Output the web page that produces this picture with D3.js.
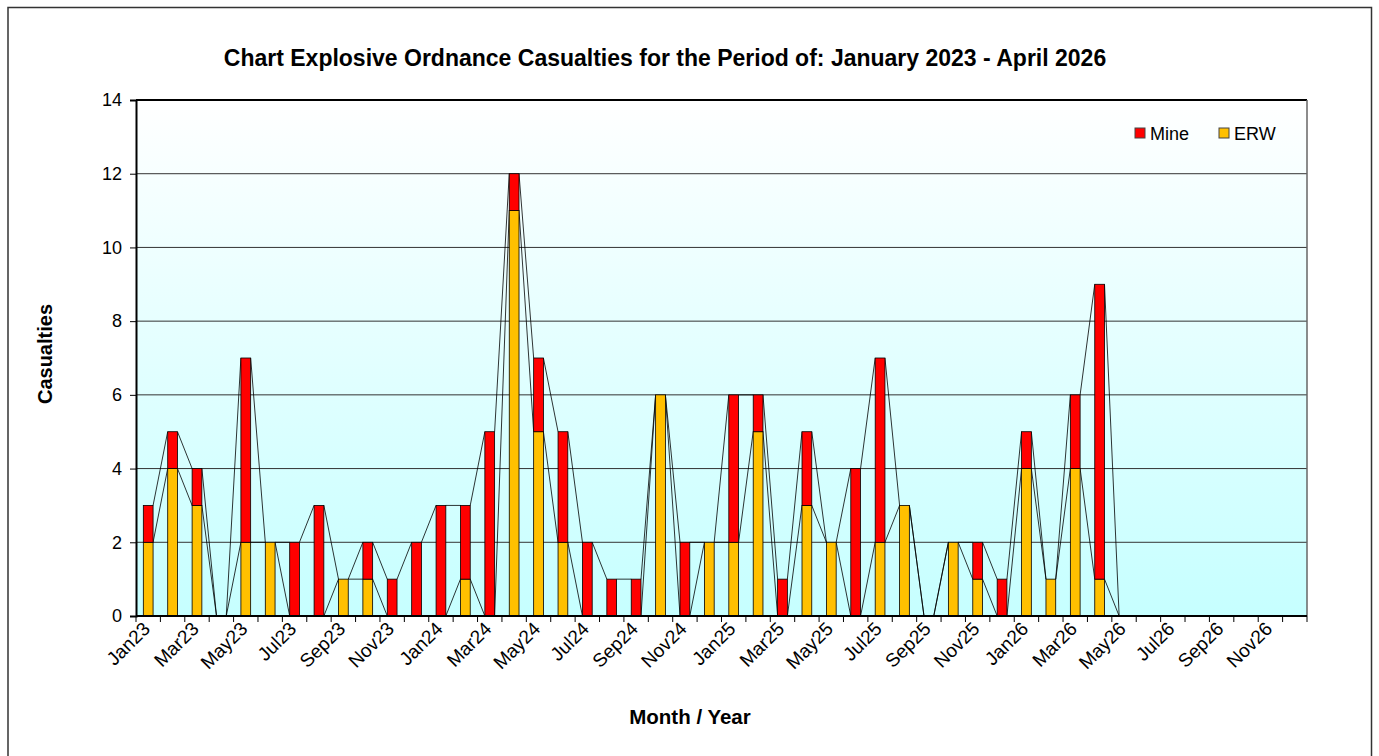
<!DOCTYPE html>
<html>
<head>
<meta charset="utf-8">
<script src="https://cdn.jsdelivr.net/npm/d3@7"></script>
<style>
  body { margin: 0; background: #fff; }
  text { font-family: "Liberation Sans", Arial, sans-serif; fill: #000; }
</style>
</head>
<body>
<div id="chart"></div>
<script>
// Months shown on the axis (Jan 2023 - Dec 2026)
const months = [
  "Jan23","Feb23","Mar23","Apr23","May23","Jun23","Jul23","Aug23","Sep23","Oct23","Nov23","Dec23",
  "Jan24","Feb24","Mar24","Apr24","May24","Jun24","Jul24","Aug24","Sep24","Oct24","Nov24","Dec24",
  "Jan25","Feb25","Mar25","Apr25","May25","Jun25","Jul25","Aug25","Sep25","Oct25","Nov25","Dec25",
  "Jan26","Feb26","Mar26","Apr26","May26","Jun26","Jul26","Aug26","Sep26","Oct26","Nov26","Dec26"
];

// ERW casualties (bottom segment), null = no data yet
const erw = [
  2,4,3,0,2,2,0,0,1,1,0,0,
  0,1,0,11,5,2,0,0,0,6,0,2,
  2,5,0,3,2,0,2,3,0,2,1,0,
  4,1,4,1,0,null,null,null,null,null,null,null
];

// Mine casualties (top segment)
const mine = [
  1,1,1,0,5,0,2,3,0,1,1,2,
  3,2,5,1,2,3,2,1,1,0,2,0,
  4,1,1,2,0,4,5,0,0,0,1,1,
  1,0,2,8,0,null,null,null,null,null,null,null
];

const yTicks = [0, 2, 4, 6, 8, 10, 12, 14];
const xLabels = months.filter((d, i) => i % 2 === 0);

const W = 1379, H = 756;
const plot = { left: 136, right: 1307, top: 100, bottom: 616 };

const svg = d3.select("#chart")
  .append("svg")
  .attr("width", W)
  .attr("height", H);

// outer chart border
svg.append("rect")
  .attr("x", 8).attr("y", 7.5)
  .attr("width", 1363.5).attr("height", 770)
  .attr("fill", "#fff")
  .attr("stroke", "#333")
  .attr("stroke-width", 1.5);

const x = d3.scaleBand()
  .domain(months)
  .range([plot.left, plot.right])
  .padding(0);

const y = d3.scaleLinear()
  .domain([0, 14])
  .range([plot.bottom, plot.top]);

const bw = x.bandwidth() * 0.4;

// background gradient
const grad = svg.append("defs").append("linearGradient")
  .attr("id", "bg").attr("x1", 0).attr("y1", 0).attr("x2", 0).attr("y2", 1);
grad.append("stop").attr("offset", "0%").attr("stop-color", "#ffffff");
grad.append("stop").attr("offset", "100%").attr("stop-color", "#c6ffff");

svg.append("rect")
  .attr("x", plot.left).attr("y", plot.top)
  .attr("width", plot.right - plot.left)
  .attr("height", plot.bottom - plot.top)
  .attr("fill", "url(#bg)");

// gridlines
svg.append("g")
  .selectAll("line")
  .data(yTicks.slice(1))
  .enter()
  .append("line")
  .attr("x1", plot.left).attr("x2", plot.right)
  .attr("y1", d => y(d)).attr("y2", d => y(d))
  .attr("stroke", d => d === 14 ? "#000" : "#333")
  .attr("stroke-width", d => d === 14 ? 2 : 1);

// right border
svg.append("line")
  .attr("x1", plot.right).attr("x2", plot.right)
  .attr("y1", plot.top).attr("y2", plot.bottom)
  .attr("stroke", "#666").attr("stroke-width", 1.5);

// stacked data
const rows = months.map((m, i) => ({
  m, erw: erw[i], mine: mine[i],
  total: erw[i] == null ? null : erw[i] + mine[i]
}));

// series lines connecting segment tops
const seriesLines = [];
for (let i = 0; i < rows.length - 1; i++) {
  const a = rows[i], b = rows[i + 1];
  if (a.total == null || b.total == null) continue;
  seriesLines.push({ x1: x(a.m) + x.bandwidth() / 2 + bw / 2, x2: x(b.m) + x.bandwidth() / 2 - bw / 2, v1: a.erw, v2: b.erw });
  seriesLines.push({ x1: x(a.m) + x.bandwidth() / 2 + bw / 2, x2: x(b.m) + x.bandwidth() / 2 - bw / 2, v1: a.total, v2: b.total });
}
svg.append("g")
  .selectAll("line")
  .data(seriesLines)
  .enter()
  .append("line")
  .attr("x1", d => d.x1).attr("x2", d => d.x2)
  .attr("y1", d => y(d.v1)).attr("y2", d => y(d.v2))
  .attr("stroke", "#000").attr("stroke-width", 0.8);

const valid = rows.filter(d => d.total != null);

// ERW bars
svg.append("g")
  .selectAll("rect")
  .data(valid.filter(d => d.erw > 0))
  .enter()
  .append("rect")
  .attr("x", d => x(d.m) + x.bandwidth() / 2 - bw / 2)
  .attr("y", d => y(d.erw))
  .attr("width", bw)
  .attr("height", d => y(0) - y(d.erw))
  .attr("fill", "#ffc000")
  .attr("stroke", "#000").attr("stroke-width", 0.8);

// Mine bars
svg.append("g")
  .selectAll("rect")
  .data(valid.filter(d => d.mine > 0))
  .enter()
  .append("rect")
  .attr("x", d => x(d.m) + x.bandwidth() / 2 - bw / 2)
  .attr("y", d => y(d.total))
  .attr("width", bw)
  .attr("height", d => y(d.erw) - y(d.total))
  .attr("fill", "#ff0000")
  .attr("stroke", "#000").attr("stroke-width", 0.8);

// y axis
const yAxis = d3.axisLeft(y).tickValues(yTicks).tickSize(6).tickPadding(8);
const yg = svg.append("g")
  .attr("transform", `translate(${plot.left}, 0)`)
  .call(yAxis);
yg.select(".domain").attr("stroke", "#000").attr("stroke-width", 2);
yg.selectAll("text").attr("font-size", 18);

// x axis: ticks on category boundaries
svg.append("line")
  .attr("x1", plot.left).attr("x2", plot.right)
  .attr("y1", plot.bottom).attr("y2", plot.bottom)
  .attr("stroke", "#000").attr("stroke-width", 2);
svg.append("g")
  .selectAll("line")
  .data(months.concat(["end"]))
  .enter()
  .append("line")
  .attr("x1", d => d === "end" ? plot.right : x(d))
  .attr("x2", d => d === "end" ? plot.right : x(d))
  .attr("y1", plot.bottom).attr("y2", plot.bottom + 6)
  .attr("stroke", "#000");

const xg = svg.append("g")
  .attr("transform", `translate(0, ${plot.bottom})`)
  .call(d3.axisBottom(x).tickValues(xLabels).tickSize(0).tickPadding(0));
xg.select(".domain").remove();
xg.selectAll("text")
  .attr("font-size", 19)
  .attr("text-anchor", "end")
  .attr("dy", 0)
  .attr("y", 0)
  .attr("transform", "translate(3, 14) rotate(-45)");

// titles
svg.append("text")
  .attr("x", 665).attr("y", 66)
  .attr("text-anchor", "middle")
  .attr("font-size", 23)
  .attr("font-weight", "bold")
  .text("Chart Explosive Ordnance Casualties for the Period of: January 2023 - April 2026");

svg.append("text")
  .attr("transform", `translate(52, 354) rotate(-90)`)
  .attr("text-anchor", "middle")
  .attr("font-size", 20)
  .attr("font-weight", "bold")
  .text("Casualties");

svg.append("text")
  .attr("x", 690).attr("y", 724)
  .attr("text-anchor", "middle")
  .attr("font-size", 20.5)
  .attr("font-weight", "bold")
  .text("Month / Year");

// legend
const legend = [
  { name: "Mine", color: "#ff0000", x: 1135 },
  { name: "ERW", color: "#ffc000", x: 1219 }
];
const lg = svg.append("g")
  .selectAll("g")
  .data(legend)
  .enter()
  .append("g")
  .attr("transform", d => `translate(${d.x}, 128)`);
lg.append("rect")
  .attr("width", 10).attr("height", 10)
  .attr("fill", d => d.color)
  .attr("stroke", "#444").attr("stroke-width", 1);
lg.append("text")
  .attr("x", 15).attr("y", 12)
  .attr("font-size", 18)
  .text(d => d.name);
</script>
</body>
</html>
